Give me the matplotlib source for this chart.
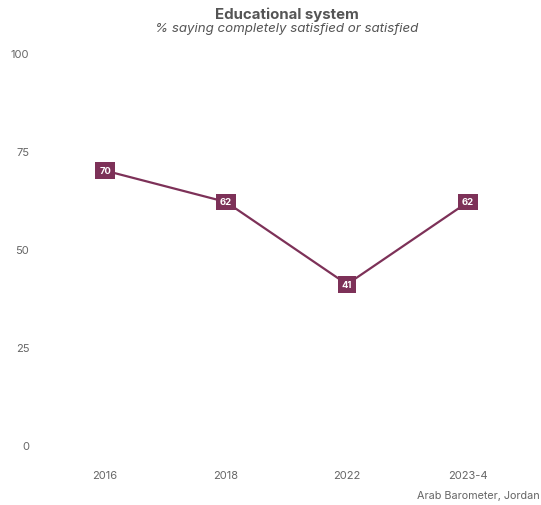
import matplotlib.pyplot as plt

years = ["2016", "2018", "2022", "2023-4"]
values = [70, 62, 41, 62]
yticks = [0, 25, 50, 75, 100]

color = "#7d3158"
grey = "#666666"

plt.rcParams["font.family"] = ["Inter", "DejaVu Sans"]

fig = plt.figure(figsize=(5.41, 5.06), dpi=100)
ax = fig.add_axes([44.5 / 541, 60 / 506, 484 / 541, 392 / 506])

x = list(range(len(years)))
ax.plot(x, values, color=color, lw=1.6, zorder=2)
for xi, v in zip(x, values):
    ax.text(xi, v, f"{v}", ha="center", va="center", color="white",
            fontsize=6.8, fontweight="bold", zorder=3,
            bbox=dict(boxstyle="square,pad=0.4", fc=color, ec="none"))

ax.set_xlim(-0.5, 3.5)
ax.set_ylim(0, 100)
ax.set_xticks(x, years)
ax.set_yticks(yticks)
ax.tick_params(axis="x", length=0, pad=18, labelsize=8, labelcolor=grey)
ax.tick_params(axis="y", length=0, pad=11, labelsize=8, labelcolor=grey)
for s in ax.spines.values():
    s.set_visible(False)

fig.text(286.5 / 541, 1 - 15 / 506, "Educational system", ha="center",
         va="center", fontsize=10.8, fontweight="bold", color="#555555")
fig.text(286.5 / 541, 1 - 29 / 506, "% saying completely satisfied or satisfied",
         ha="center", va="center", fontsize=9.6, style="italic", color="#555555")
fig.text(540 / 541, 1 - 496 / 506, "Arab Barometer, Jordan", ha="right",
         va="center", fontsize=7.8, color=grey)

fig.savefig("out.png", dpi=100)
